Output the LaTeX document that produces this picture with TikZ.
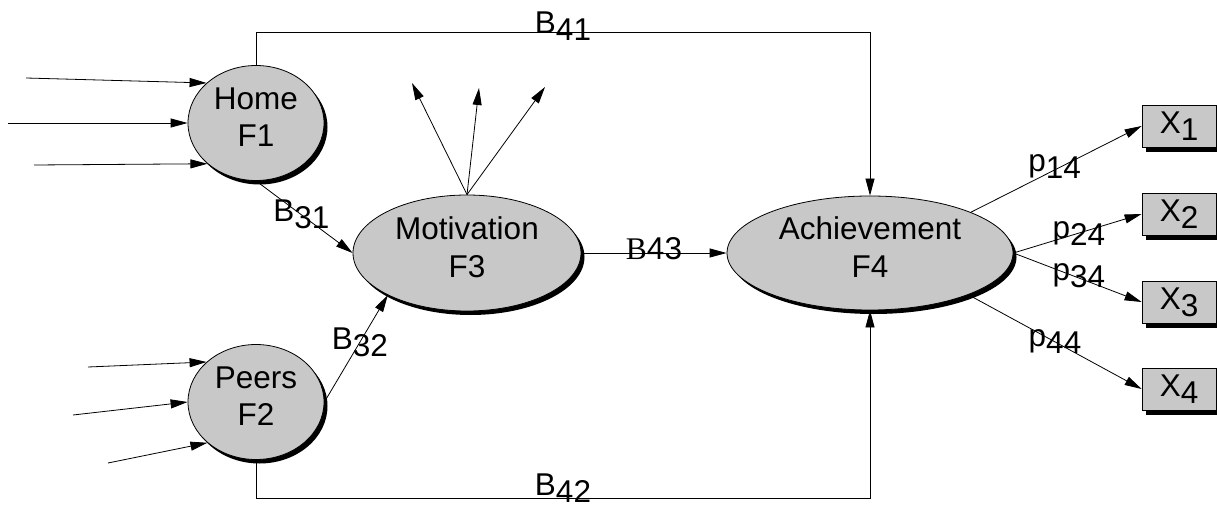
\documentclass[tikz,border=0pt]{standalone}
\usepackage{fontspec}
\setmainfont{Liberation Sans}
\newfontfamily\serifletter{Liberation Serif}
\usepackage{tikz}
\usetikzlibrary{arrows.meta,positioning,shapes.geometric,shadows}

\definecolor{factorgray}{RGB}{200,200,200}
\newcommand{\lowidx}[1]{\raisebox{-7pt}{#1}}

\begin{document}
\begin{tikzpicture}
    [x=1pt,y=-1pt,>={Triangle[length=17pt,width=9pt]},line width=0.8pt,
     node distance=100pt,on grid,font=\fontsize{31.5}{37.6}\selectfont,
     factor/.style={ellipse,draw,fill=factorgray,inner sep=0pt,align=center,
       drop shadow={shadow xshift=3.5pt,shadow yshift=-4pt,opacity=1,fill=black}},
     indicator/.style={rectangle,draw,fill=factorgray,inner sep=0pt,
       minimum width=74pt,minimum height=42pt,
       drop shadow={shadow xshift=4pt,shadow yshift=-5pt,opacity=1,fill=black}},
     coef/.style={inner sep=0pt}]

    \useasboundingbox (0,0) rectangle (1217,505);

    \node[factor,minimum width=136pt,minimum height=115pt] (F1) at (256,123) {Home\\F1\strut};
    \node[factor,minimum width=136pt,minimum height=115pt] (F2) [below =279pt of F1] {Peers\\F2\strut};
    \node[factor,minimum width=228pt,minimum height=116pt] (F3) [below right =130pt and 211pt of F1] {Motivation\\F3\strut};
    \node[factor,minimum width=286pt,minimum height=114pt] (F4) [right =403pt of F3] {Achievement\\F4\strut};

    \node[indicator] (X2) [above right =39pt and 309pt of F4] {X\lowidx{2}};
    \node[indicator] (X1) [above =88pt of X2] {X\lowidx{1}};
    \node[indicator] (X3) [below =88pt of X2] {X\lowidx{3}};
    \node[indicator] (X4) [below =87pt of X3] {X\lowidx{4}};

    % free ends of the error arrows
    \coordinate (h1) at (26,78);
    \coordinate (h2) at (8,123);
    \coordinate (h3) at (34,165);
    \coordinate (r1) at (88,367);
    \coordinate (r2) at (73,415);
    \coordinate (r3) at (108,463);
    \coordinate (m1) at (412,83);
    \coordinate (m2) at (479,88);
    \coordinate (m3) at (545,87);

    \path
    (h1) edge [->] (F1.141)
    (h2) edge [->] (F1.west)
    (h3) edge [->] (F1.220)
    (r1) edge [->] (F2.141)
    (r2) edge [->] (F2.west)
    (r3) edge [->] (F2.220)
    (F3.north) edge [->] (m1)
    (F3.north) edge [->] (m2)
    (F3.north) edge [->] (m3)
    (F1.south) edge [->] node[coef,pos=0.47] {B\lowidx{31}} (F3.west)
    (F2.east) edge [->] node[coef,pos=0.56] {B\lowidx{32}} (F3.208)
    (F3.east) edge [->] node[coef,yshift=4.5pt] {{\serifletter B}43} (F4.west)
    (F4.22) edge [->] node[coef,pos=0.49,yshift=3pt] {p\lowidx{14}} (X1.west)
    (F4.east) edge [->] node[coef,pos=0.51] {p\lowidx{24}} (X2.west)
    (F4.east) edge [->] node[coef,pos=0.51,yshift=2pt] {p\lowidx{34}} (X3.west)
    (F4.-23) edge [->] node[coef,pos=0.5] {p\lowidx{44}} (X4.west)
    ;

    \draw[->] (F1.north) -- ++(0,-33) -| node[coef,pos=0.25,yshift=5.5pt] {B\lowidx{41}} (F4.north);
    \draw[->] (F2.south) -- ++(0,38) -| node[coef,pos=0.25,yshift=10pt] {B\lowidx{42}} (F4.south);

  \end{tikzpicture}
\end{document}
